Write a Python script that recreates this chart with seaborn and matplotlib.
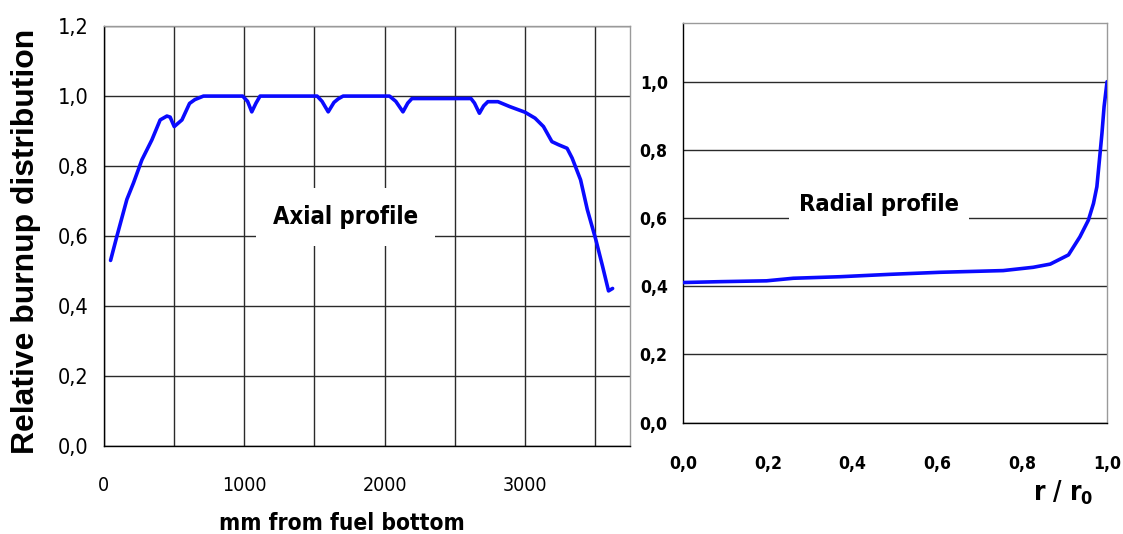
import matplotlib
matplotlib.use("Agg")
import matplotlib.pyplot as plt
import seaborn as sns
import pandas as pd
from matplotlib.ticker import MultipleLocator

# ---------------- data ----------------
axial_mm = [50, 95, 166, 213, 273, 344, 403, 451, 474, 503, 558, 612, 650, 711,
            850, 990, 1025, 1055, 1085, 1114, 1300, 1520, 1555, 1599, 1640, 1670,
            1705, 1850, 2035, 2080, 2131, 2165, 2195, 2400, 2615, 2640, 2675, 2705,
            2735, 2807, 2891, 2999, 3071, 3131, 3191, 3239, 3299, 3335, 3395, 3443,
            3503, 3551, 3594, 3623]
axial_rel = [0.531, 0.600, 0.705, 0.752, 0.818, 0.875, 0.932, 0.943, 0.940, 0.913,
             0.932, 0.979, 0.990, 1.000, 1.000, 1.000, 0.985, 0.955, 0.980, 1.000,
             1.000, 1.000, 0.985, 0.955, 0.982, 0.992, 1.000, 1.000, 1.000, 0.985,
             0.955, 0.980, 0.993, 0.993, 0.993, 0.980, 0.951, 0.972, 0.984, 0.984,
             0.970, 0.954, 0.937, 0.913, 0.870, 0.861, 0.851, 0.823, 0.761, 0.676,
             0.591, 0.515, 0.444, 0.451]

radial_r = [0.0, 0.087, 0.197, 0.260, 0.370, 0.488, 0.606, 0.755, 0.826, 0.866,
            0.909, 0.936, 0.956, 0.968, 0.976, 0.982, 0.988, 0.993, 1.0]
radial_rel = [0.411, 0.4135, 0.416, 0.4235, 0.428, 0.435, 0.441, 0.446, 0.4557,
              0.465, 0.492, 0.545, 0.594, 0.643, 0.692, 0.770, 0.849, 0.927, 1.0]

axial_xticks = [0, 1000, 2000, 3000]
axial_xtick_labels = ["0", "1000", "2000", "3000"]
axial_yticks = [0.0, 0.2, 0.4, 0.6, 0.8, 1.0, 1.2]
axial_ytick_labels = ["0,0", "0,2", "0,4", "0,6", "0,8", "1,0", "1,2"]
radial_xticks = [0.0, 0.2, 0.4, 0.6, 0.8, 1.0]
radial_xtick_labels = ["0,0", "0,2", "0,4", "0,6", "0,8", "1,0"]
radial_yticks = [0.0, 0.2, 0.4, 0.6, 0.8, 1.0]
radial_ytick_labels = ["0,0", "0,2", "0,4", "0,6", "0,8", "1,0"]

axial_df = pd.DataFrame({"mm": axial_mm, "rel": axial_rel})
radial_df = pd.DataFrame({"r": radial_r, "rel": radial_rel})

# ---------------- style ----------------
sns.set_style("white")
plt.rcParams["font.family"] = ["DejaVu Sans"]
plt.rcParams["font.stretch"] = "condensed"
plt.rcParams["text.color"] = "black"
plt.rcParams["xtick.color"] = "black"
plt.rcParams["ytick.color"] = "black"
plt.rcParams["mathtext.default"] = "regular"

LINE_COLOR = "#0a0aff"
GRID_COLOR = "#2a2a2a"
FRAME_GRAY = "#9a9a9a"
DPI = 100

fig = plt.figure(figsize=(11.23, 5.34), dpi=DPI)
ax1 = fig.add_axes([0.0922, 0.1639, 0.4692, 0.7874])
ax2 = fig.add_axes([0.6082, 0.2085, 0.3776, 0.7477])

# ---------------- axial ----------------
sns.lineplot(data=axial_df, x="mm", y="rel", ax=ax1, color=LINE_COLOR,
             linewidth=2.6, sort=False, zorder=3)
ax1.set_xlim(0, 3750)
ax1.set_ylim(0, 1.2)
ax1.set_xticks(axial_xticks)
ax1.set_xticklabels(axial_xtick_labels)
ax1.xaxis.set_minor_locator(MultipleLocator(500))
ax1.set_yticks(axial_yticks)
ax1.set_yticklabels(axial_ytick_labels)
ax1.grid(True, which="both", axis="x", color=GRID_COLOR, linewidth=1.0)
ax1.grid(True, which="major", axis="y", color=GRID_COLOR, linewidth=1.0)
ax1.set_axisbelow(True)
ax1.tick_params(axis="x", which="major", direction="out", length=7, width=1,
                color="black", pad=14)
ax1.tick_params(axis="x", which="minor", direction="out", length=3, width=1,
                color="black")
ax1.tick_params(axis="y", direction="out", length=5, width=1, color="black",
                pad=6)
ax1.set_xlabel("")
ax1.set_ylabel("")
for s in ("left", "bottom"):
    ax1.spines[s].set_color("black")
    ax1.spines[s].set_linewidth(1.0)
for s in ("top", "right"):
    ax1.spines[s].set_color(FRAME_GRAY)
    ax1.spines[s].set_linewidth(1.0)

t_axial = ax1.text(1719, 0.655, "Axial profile", ha="center", va="center",
                   fontsize=20, fontweight="bold", zorder=4)

# ---------------- radial ----------------
sns.lineplot(data=radial_df, x="r", y="rel", ax=ax2, color=LINE_COLOR,
             linewidth=2.6, sort=False, zorder=3)
ax2.set_xlim(0, 1.0)
ax2.set_ylim(0, 1.171)
ax2.set_xticks(radial_xticks)
ax2.set_xticklabels(radial_xtick_labels)
ax2.set_yticks(radial_yticks)
ax2.set_yticklabels(radial_ytick_labels)
ax2.grid(True, axis="y", color=GRID_COLOR, linewidth=1.0)
ax2.grid(False, axis="x")
ax2.set_axisbelow(True)
ax2.tick_params(axis="x", direction="out", length=4, width=1, color="black",
                pad=19)
ax2.tick_params(axis="y", direction="out", length=5, width=1, color="black",
                pad=6)
ax2.set_xlabel("")
ax2.set_ylabel("")
for s in ("left", "bottom"):
    ax2.spines[s].set_color("black")
    ax2.spines[s].set_linewidth(1.0)
for s in ("top", "right"):
    ax2.spines[s].set_color(FRAME_GRAY)
    ax2.spines[s].set_linewidth(1.0)

t_radial = ax2.text(0.462, 0.64, "Radial profile", ha="center", va="center",
                    fontsize=20, fontweight="bold", zorder=4)

# ---------------- axis titles ----------------
t_ylab = fig.text(0.0235, 0.548, "Relative burnup distribution", rotation=90,
                  ha="center", va="center", fontsize=23, fontweight="bold",
                  fontstretch="normal", family=["Liberation Sans", "DejaVu Sans"])
t_xlab = fig.text(0.3045, 0.008, "mm from fuel bottom", ha="center",
                  va="baseline", fontsize=20, fontweight="bold")
t_r = fig.text(0.9466, 0.077, r"r / r$_{0}$", ha="center", va="center",
               fontsize=24, fontweight="bold")

# ---------------- fit text sizes to the reference widths ----------------
fig.canvas.draw()
renderer = fig.canvas.get_renderer()


def fit(texts, ref_text, target_px, along="w"):
    bb = ref_text.get_window_extent(renderer)
    cur = bb.width if along == "w" else bb.height
    fs = ref_text.get_fontsize() * target_px / cur
    for t in texts:
        t.set_fontsize(fs)
    return fs


fs_ax = fit([t_axial], t_axial, 146)
fs_rad = fit([t_radial], t_radial, 160)
fit([t_xlab], t_xlab, 245)
fit([t_ylab], t_ylab, 425, along="h")
fit([t_r], t_r, 60)

x1 = ax1.get_xticklabels()
y1 = ax1.get_yticklabels()
x2 = ax2.get_xticklabels()
y2 = ax2.get_yticklabels()
fit(x1, x1[1], 45)
fit(y1, y1[5], 31)
for lab in x2 + y2:
    lab.set_fontweight("bold")
fit(x2 + y2, y2[5], 28)

# white boxes behind the in-plot titles
px_per_pt = DPI / 72.0
t_axial.set_bbox(dict(boxstyle="square,pad=%.3f" % (17 / (fs_ax * px_per_pt)),
                      facecolor="white", edgecolor="none"))
t_radial.set_bbox(dict(boxstyle="square,pad=%.3f" % (10 / (fs_rad * px_per_pt)),
                       facecolor="white", edgecolor="none"))

fig.savefig("out.png", dpi=DPI)
